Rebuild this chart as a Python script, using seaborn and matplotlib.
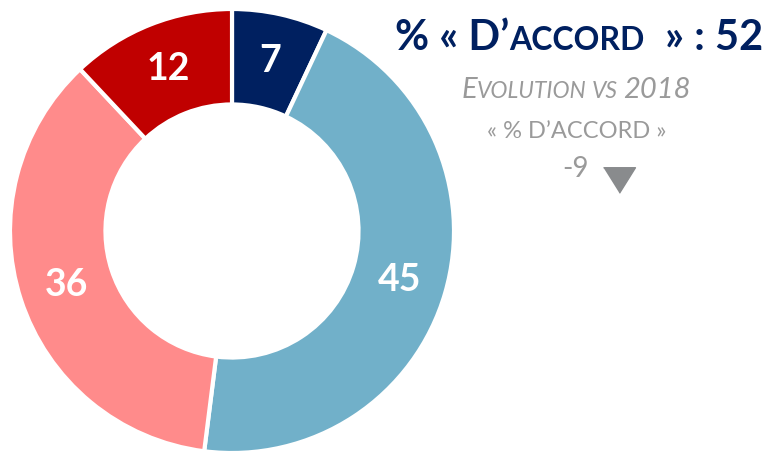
import matplotlib
matplotlib.use("Agg")
import matplotlib.pyplot as plt
import seaborn as sns
from matplotlib.lines import Line2D

# ==========================
# Data
# ==========================

categories = ["Tout à fait d'accord", "Plutôt d'accord", "Plutôt pas d'accord", "Pas du tout d'accord"]
values = [7, 45, 36, 12]
colors = ["#002060", "#71B0C9", "#FF8B8B", "#C00000"]
agree_total = values[0] + values[1]
evolution = -9

# ==========================
# Figure
# ==========================

sns.set_theme(style="white")
plt.rcParams["font.family"] = ["Lato", "DejaVu Sans"]

W, H = 770, 453
fig = plt.figure(figsize=(W / 100, H / 100), dpi=100)

# donut: centre (232, 231) px, radius 222 px
ax = fig.add_axes([10 / W, (H - 231 - 222) / H, 444 / W, 444 / H])
wedges, _, autotexts = ax.pie(
    values,
    colors=colors,
    startangle=90,
    counterclock=False,
    radius=1.0,
    autopct="%.0f",
    pctdistance=0.785,
    wedgeprops=dict(width=0.43, edgecolor="white", linewidth=3),
    textprops=dict(color="white", fontsize=27, fontweight="bold"),
)
for t, v in zip(autotexts, values):
    t.set_text(str(v))
ax.set_xlim(-1, 1)
ax.set_ylim(-1, 1)
ax.axis("off")

# ==========================
# Side text (small caps done by hand)
# ==========================

renderer = fig.canvas.get_renderer()


def text_runs(parts, x, y, ha="left", **kw):
    # parts: (string, fontsize, gap_before_px)
    items = []
    for s, size, gap in parts:
        t = fig.text(0, 1 - y / H, s, fontsize=size, va="baseline", ha="left", **kw)
        items.append((t, gap))
    widths = [t.get_window_extent(renderer).width for t, _ in items]
    total = sum(widths) + sum(g for _, g in items)
    if ha == "center":
        x0 = x - total / 2
    elif ha == "right":
        x0 = x - total
    else:
        x0 = x
    for (t, gap), w in zip(items, widths):
        x0 += gap
        t.set_x(x0 / W)
        x0 += w


navy = "#002060"
grey = "#9A9A9A"

text_runs([("% « D’", 30, 0), ("ACCORD", 23, 0), ("» : " + str(agree_total), 30, 20)],
          763, 50, ha="right", color=navy, fontweight="bold")

text_runs([("E", 21, 0), ("VOLUTION", 16.5, 0), ("VS", 16.5, 5), ("2018", 21, 5)],
          576, 98, ha="center", color=grey, fontstyle="italic")

text_runs([("« % D’ACCORD »", 17, 0)], 577, 138, ha="center", color=grey)

text_runs([(str(evolution), 20, 0)], 562, 177, color=grey)

fig.add_artist(Line2D([619 / W], [1 - 180 / H], transform=fig.transFigure,
                      marker=[(-1, 0.8), (1, 0.8), (0, -0.8)], markersize=23,
                      color="#898B8D", linestyle="none"))

fig.savefig("out.png", dpi=100)
